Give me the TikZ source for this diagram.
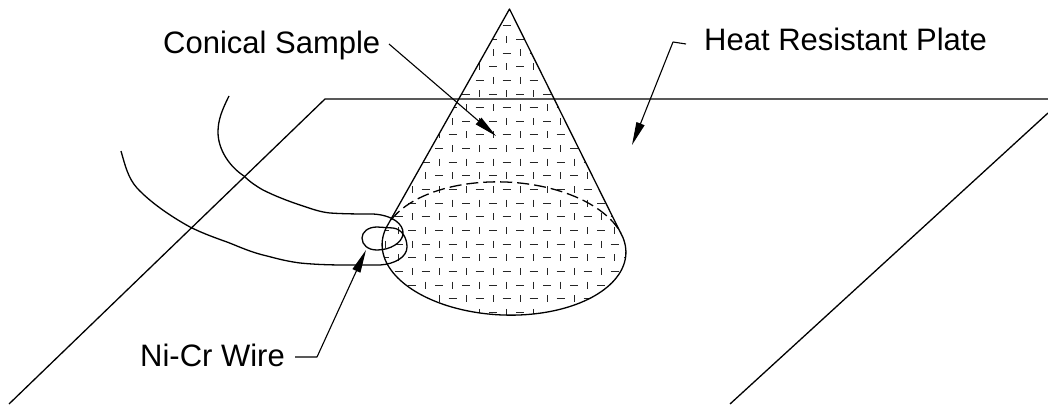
\documentclass[tikz,border=0pt]{standalone}
\usepackage{fontspec}
\setmainfont{Liberation Sans}
\usetikzlibrary{arrows.meta}
\tikzset{
 edge/.style={line width=1.3pt,black,line join=round},
 lab/.style={font=\fontsize{31}{34}\selectfont,inner sep=0pt,anchor=base west},
 leader/.style={line width=1.1pt,line join=round,-{Triangle[length=23pt,width=8.5pt]}},
 hatch/.style={line width=0.9pt,black!85}
}
\newcommand{\ellx}{{504+122*cos(\x)*cos(2.5)-66.5*sin(\x)*sin(2.5)}}
\newcommand{\elly}{{248.5+122*cos(\x)*sin(2.5)+66.5*sin(\x)*cos(2.5)}}
\begin{document}
\begin{tikzpicture}[x=1pt,y=-1pt]
\useasboundingbox (0,0) rectangle (1048,404);
\coordinate (apex) at (509.5,9);
% hatching
\begin{scope}
\clip (apex) -- plot[domain=197:-14,samples=90] (\ellx,\elly) -- cycle;
\foreach \k in {0,...,21}{
  \pgfmathsetmacro{\yy}{25.7+13.65*\k}
  \pgfmathsetmacro{\off}{mod(\k,2)==1 ? 0 : 13.5}
  \foreach \j in {-6,...,6}{
    \pgfmathsetmacro{\xa}{506.7+27*\j+\off}
    \pgfmathsetmacro{\xb}{\xa+13.5}
    \draw[hatch] (\xa,\yy-3.5) -- (\xa,\yy+3.5);
    \draw[hatch] (\xb-4,\yy) -- (\xb+4,\yy);
  }
}
\end{scope}
% plate
\coordinate (p1) at (9,404);
\coordinate (p2) at (325,99);
\coordinate (p3) at (1048,99);
\coordinate (p4) at (1048,113);
\coordinate (p5) at (730,404);
\draw[edge] (p1) -- (p2) -- (p3);
\draw[edge] (p4) -- (p5);
% cone
\draw[edge] (apex) -- plot[domain=197:-14,samples=90] (\ellx,\elly) -- cycle;
\draw[edge,dash pattern=on 12pt off 5pt] plot[domain=201:342,samples=60] (\ellx,\elly);
% wires
\draw[edge] (229,96) .. controls (222,110) and (218,120) .. (218,132)
 .. controls (218,150) and (230,167) .. (244,176)
 .. controls (250,182) and (256,186) .. (263,190)
 .. controls (275,196) and (288,201) .. (300,205)
 .. controls (312,209) and (320,212) .. (330,213)
 .. controls (345,214) and (360,214) .. (373,214)
 .. controls (392,215) and (404,224) .. (403,234)
 .. controls (402,243) and (390,250) .. (377,250)
 .. controls (368,250) and (362,245) .. (362,238)
 .. controls (362,232) and (368,227) .. (377,227)
 -- (393,228)
 .. controls (402,229) and (407,238) .. (407,247)
 .. controls (407,257) and (395,264) .. (380,265)
 -- (345,265)
 .. controls (325,265) and (310,264) .. (300,263)
 .. controls (285,261) and (275,258) .. (267,256)
 .. controls (250,252) and (240,247) .. (227,242)
 .. controls (210,236) and (200,232) .. (190,227)
 .. controls (170,216) and (150,202) .. (137,188)
 .. controls (128,178) and (125,165) .. (121,151);
% labels
\node[lab] (cs) at (163,53) {Conical Sample};
\node[lab] (hr) at (704,51) {Heat Resistant Plate};
\node[lab] (nc) at (140,366) {Ni-Cr Wire};
\coordinate (csa) at (389,44);\coordinate (cst) at (496,136);
\coordinate (hra) at (686,44);\coordinate (hrb) at (673,42);\coordinate (hrt) at (632,145);
\coordinate (nca) at (295,357);\coordinate (ncb) at (317,357);\coordinate (nct) at (366,250);
\draw[leader] (csa) -- (cst);
\draw[leader] (hra) -- (hrb) -- (hrt);
\draw[leader] (nca) -- (ncb) -- (nct);
\end{tikzpicture}
\end{document}
